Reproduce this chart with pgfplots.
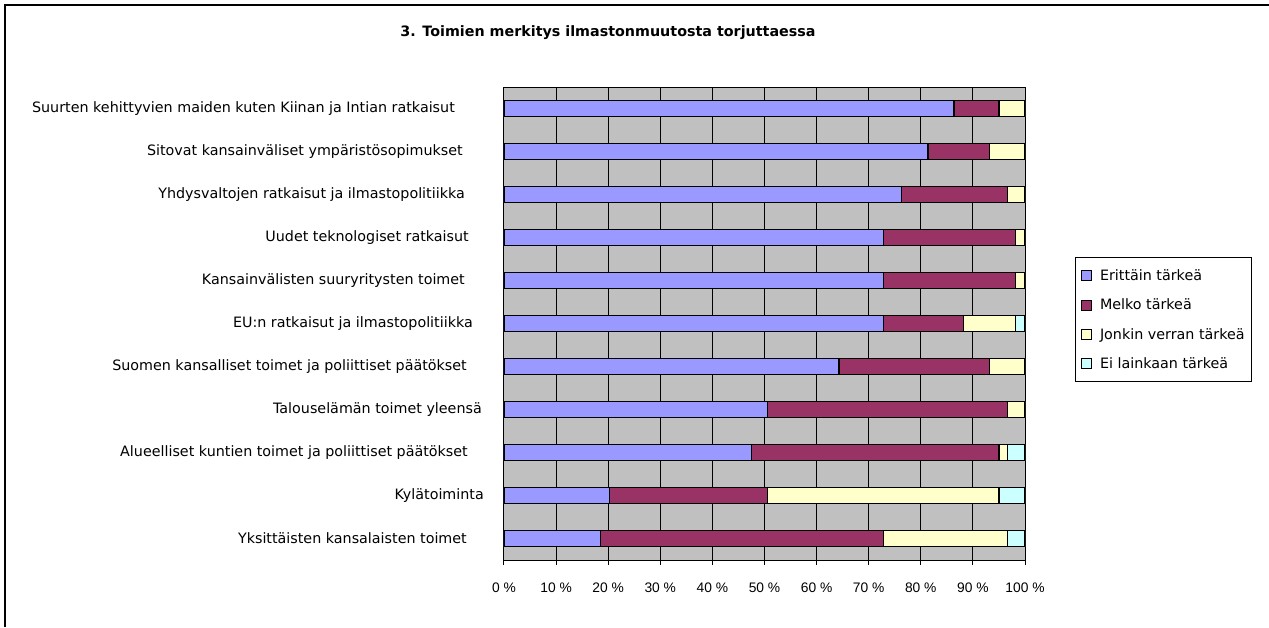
\documentclass[border=0pt]{standalone}
\usepackage{fontspec}
\setmainfont{DejaVu Sans}
\newfontfamily\arialf{Liberation Sans}
\usepackage{pgfplots}
\pgfplotsset{compat=1.18}
\definecolor{cBlue}{HTML}{9999FF}
\definecolor{cMaroon}{HTML}{993366}
\definecolor{cYellow}{HTML}{FFFFCC}
\definecolor{cCyan}{HTML}{CCFFFF}
\definecolor{cGray}{HTML}{C0C0C0}
\newcommand{\lf}{\fontsize{14.3}{17}\selectfont}
\begin{document}
\begin{tikzpicture}
\useasboundingbox (0,0) rectangle (1269pt,-627pt);
\draw[line width=1.3pt] (5pt,-627pt) -- (5pt,-5pt) -- (1269pt,-5pt);
\node[font=\lf\bfseries] at (608pt,-33pt) {3. Toimien merkitys ilmastonmuutosta torjuttaessa};
\begin{axis}[
  at={(504pt,-560pt)}, anchor=south west,
  width=521pt, height=473pt, scale only axis,
  xbar stacked, bar width=16.5pt,
  xmin=0, xmax=100, ymin=-0.5, ymax=10.5, y dir=reverse,
  axis background/.style={fill=cGray},
  axis line style={black, line width=1pt},
  xtick={0,10,...,100},
  xticklabels={0 \%,10 \%,20 \%,30 \%,40 \%,50 \%,60 \%,70 \%,80 \%,90 \%,100 \%},
  xticklabel style={font=\arialf\fontsize{13.8}{16}\selectfont, yshift=-14pt},
  xmajorgrids, major grid style={black, line width=1pt},
  xtick pos=bottom, ytick pos=left,
  tick align=outside,
  major tick length=5pt, minor tick length=7pt,
  tick style={black, line width=1pt},
  ytick={0,...,10},
  ytick style={draw=none},
  minor ytick={-0.5,0.5,...,10.5},
  minor tick style={black, line width=1pt},
  yticklabel style={font=\lf, inner sep=0pt, anchor=east, xshift=-15pt},
  yticklabels={
    {Suurten kehittyvien maiden kuten Kiinan ja Intian ratkaisut\hspace*{29pt}},
    {Sitovat kansainväliset ympäristösopimukset\hspace*{21pt}},
    {Yhdysvaltojen ratkaisut ja ilmastopolitiikka\hspace*{19pt}},
    {Uudet teknologiset ratkaisut\hspace*{15pt}},
    {Kansainvälisten suuryritysten toimet\hspace*{19pt}},
    {EU:n ratkaisut ja ilmastopolitiikka\hspace*{11pt}},
    {Suomen kansalliset toimet ja poliittiset päätökset\hspace*{17pt}},
    {Talouselämän toimet yleensä\hspace*{2pt}},
    {Alueelliset kuntien toimet ja poliittiset päätökset\hspace*{16pt}},
    {Kylätoiminta},
    {Yksittäisten kansalaisten toimet\hspace*{17pt}}},
  legend style={at={(1.096,0.6406)}, anchor=north west, draw=black, line width=1pt,
    font=\lf, row sep=13pt, inner xsep=5pt, inner ysep=10pt},
  legend cell align=left,
  legend image code/.code={\path[draw=none, fill=none] (0pt,0pt) -- (17pt,0pt);
    \draw[#1, draw=black, line width=1pt] (0pt,-5pt) rectangle (10pt,5pt);},
]
\addplot[fill=cBlue, draw=black, line width=1.3pt] coordinates {
 (86.4,0) (81.4,1) (76.3,2) (72.9,3) (72.9,4) (72.9,5) (64.3,6) (50.6,7) (47.5,8) (20.3,9) (18.5,10)};
\addplot[fill=cMaroon, draw=black, line width=1.3pt] coordinates {
 (8.6,0) (11.8,1) (20.4,2) (25.3,3) (25.3,4) (15.3,5) (28.9,6) (46.1,7) (47.5,8) (30.3,9) (54.4,10)};
\addplot[fill=cYellow, draw=black, line width=1.3pt] coordinates {
 (5.0,0) (6.8,1) (3.3,2) (1.8,3) (1.8,4) (10.0,5) (6.8,6) (3.3,7) (1.7,8) (44.4,9) (23.8,10)};
\addplot[fill=cCyan, draw=black, line width=1.3pt] coordinates {
 (0,0) (0,1) (0,2) (0,3) (0,4) (1.8,5) (0,6) (0,7) (3.3,8) (5.0,9) (3.3,10)};
\legend{Erittäin tärkeä, Melko tärkeä, Jonkin verran tärkeä, Ei lainkaan tärkeä}
\end{axis}
\end{tikzpicture}
\end{document}
